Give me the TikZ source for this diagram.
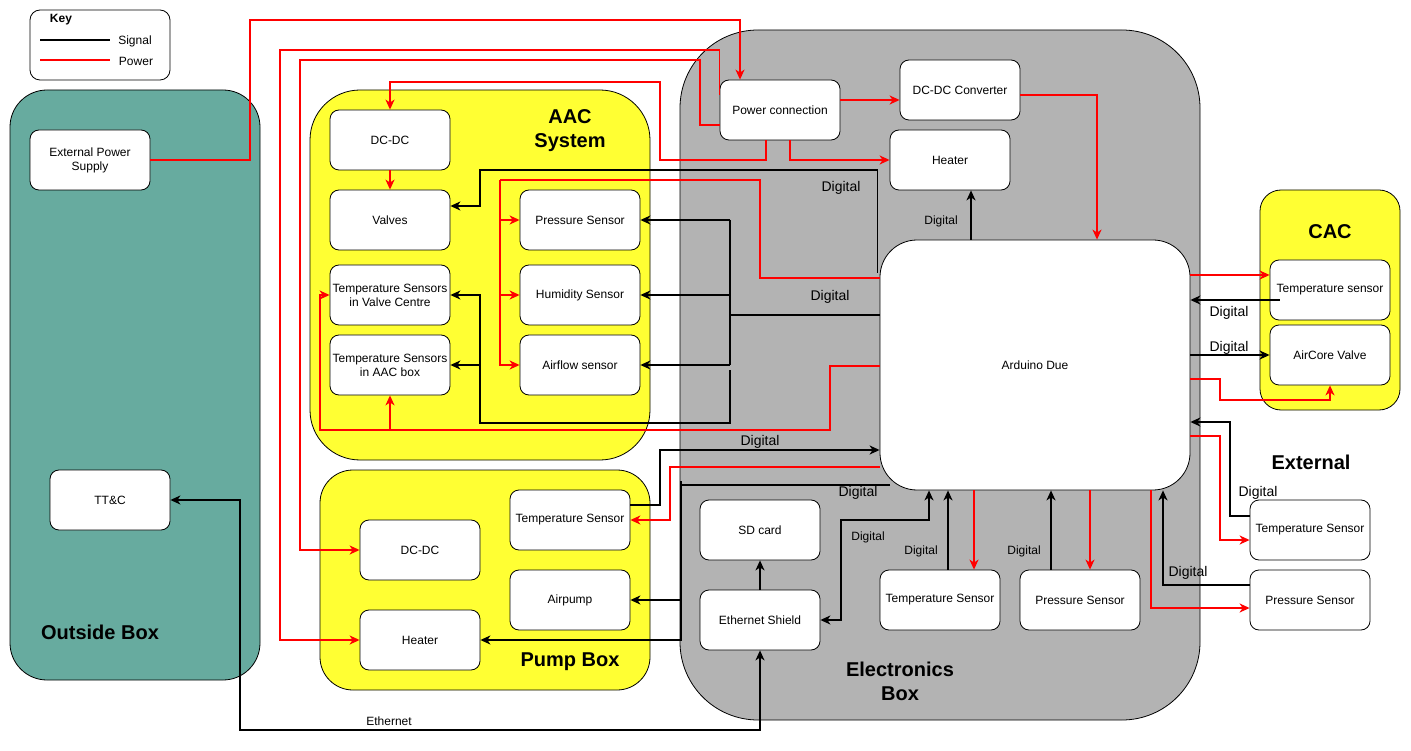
\documentclass[tikz,border=0pt]{standalone}
\usepackage{fontspec}
\setmainfont{Liberation Sans}
\usetikzlibrary{arrows.meta}
\definecolor{tealbox}{HTML}{67AB9F}
\definecolor{yelbox}{HTML}{FFFF33}
\definecolor{grybox}{HTML}{B3B3B3}
\tikzset{
  myarrow/.tip={Stealth[length=10pt,width=9pt,inset=3pt]},
  arr/.style={-myarrow},
  bidir/.style={myarrow-myarrow},
  box/.style={draw=black, fill=white, rounded corners=9pt, minimum width=120pt, minimum height=60pt, align=center, font=\fontsize{12}{14}\selectfont, inner sep=1pt, line width=0.8pt},
  cont/.style={draw=black, line width=0.8pt, inner sep=0pt},
  pw/.style={draw=red, line width=1.5pt},
  sg/.style={draw=black, line width=1.5pt},
  ttl/.style={font=\fontsize{20}{24}\selectfont\bfseries, align=center},
  lblL/.style={font=\fontsize{14}{16}\selectfont, inner sep=0pt},
  lblS/.style={font=\fontsize{12}{14}\selectfont, inner sep=0pt},
}
\begin{document}
\begin{tikzpicture}[x=1pt,y=-1pt]
\useasboundingbox (0,0) rectangle (1411,751);
% containers
\node[cont, fill=white, minimum width=140pt, minimum height=70pt, rounded corners=10pt] (keybox) at (100,45) {};
\node[cont, fill=tealbox, minimum width=250pt, minimum height=590pt, rounded corners=37pt] (outside) at (135,385) {};
\node[cont, fill=yelbox, minimum width=340pt, minimum height=370pt, rounded corners=50pt] (aac) at (480,275) {};
\node[cont, fill=yelbox, minimum width=330pt, minimum height=220pt, rounded corners=33pt] (pump) at (485,580) {};
\node[cont, fill=grybox, minimum width=520pt, minimum height=690pt, rounded corners=78pt] (ebox) at (940,375) {};
\node[cont, fill=yelbox, minimum width=140pt, minimum height=220pt, rounded corners=21pt] (cac) at (1330,300) {};
% titles
\node[ttl] (ttlout) at (100,632) {Outside Box};
\node[ttl] (ttlaac) at (570,131) {AAC\\System};
\node[ttl] (ttlpump) at (570,662) {Pump Box};
\node[ttl] (ttlebox) at (900,681) {Electronics\\Box};
\node[ttl] (ttlcac) at (1330,232) {CAC};
\node[ttl] (ttlext) at (1311,462) {External};
% key
\node[font=\fontsize{12}{14}\selectfont\bfseries] (keyt) at (61,20) {Key};
\coordinate (ks1) at (40,40); \coordinate (ks2) at (110,40);
\coordinate (kp1) at (40,60); \coordinate (kp2) at (110,60);
\draw[sg] (ks1) -- (ks2);
\draw[pw] (kp1) -- (kp2);
\node[lblS] (keysig) at (135,41) {Signal};
\node[lblS] (keypow) at (136,61) {Power};
% nodes
\node[box] (extpow) at (90,160) {External Power\\Supply};
\node[box] (ttc) at (110,500) {TT\&C};
\node[box] (aacdcdc) at (390,140) {DC-DC};
\node[box] (valves) at (390,220) {Valves};
\node[box] (tsvalve) at (390,295) {Temperature Sensors\\in Valve Centre};
\node[box] (tsaac) at (390,365) {Temperature Sensors\\in AAC box};
\node[box] (aacpress) at (580,220) {Pressure Sensor};
\node[box] (aachum) at (580,295) {Humidity Sensor};
\node[box] (aacair) at (580,365) {Airflow sensor};
\node[box] (ptemp) at (570,520) {Temperature Sensor};
\node[box] (pdcdc) at (420,550) {DC-DC};
\node[box] (pairpump) at (570,600) {Airpump};
\node[box] (pheater) at (420,640) {Heater};
\node[box] (pconn) at (780,110) {Power connection};
\node[box] (dcconv) at (960,90) {DC-DC Converter};
\node[box] (eheater) at (950,160) {Heater};
\node[box, minimum width=310pt, minimum height=250pt, rounded corners=37pt] (arduino) at (1035,365) {Arduino Due};
\node[box] (sdcard) at (760,530) {SD card};
\node[box] (ethshield) at (760,620) {Ethernet Shield};
\node[box] (etemp) at (940,600) {Temperature Sensor};
\node[box] (epress) at (1080,600) {Pressure Sensor};
\node[box] (cactemp) at (1330,290) {Temperature sensor};
\node[box] (aircore) at (1330,355) {AirCore Valve};
\node[box] (xtemp) at (1310,530) {Temperature Sensor};
\node[box] (xpress) at (1310,600) {Pressure Sensor};
% power connectors
\draw[pw,arr] (extpow.east) -| (250,20) -| ([xshift=-40pt]pconn.north);
\draw[pw,arr] ([yshift=15pt]pconn.west) |- (280,50) |- (pheater.west);
\draw[pw,arr] ([yshift=-15pt]pconn.west) -- (700,125) |- (300,60) |- (pdcdc.west);
\draw[pw,arr] ([xshift=-14pt]pconn.south) |- (660,160) |- (390,82) -- (aacdcdc.north);
\draw[pw,arr] ([xshift=10pt]pconn.south) |- (eheater.west);
\draw[pw,arr] ([yshift=10pt]pconn.east) -- ([yshift=-10pt]dcconv.west);
\draw[pw,arr] ([yshift=-5pt]dcconv.east) -| ([xshift=62pt]arduino.north);
\draw[pw,arr] (aacdcdc.south) -- (valves.north);
\coordinate (jP) at (500,180);
\draw[pw] ([yshift=87pt]arduino.west) -| (760,180) -- (jP);
\draw[pw,arr] (jP) |- (aacair.west);
\draw[pw,arr] (jP |- aacpress.west) -- (aacpress.west);
\draw[pw,arr] (jP |- aachum.west) -- (aachum.west);
\coordinate (jQ) at (390,430);
\draw[pw,arr] ([yshift=-1pt]arduino.west) -| (830,430) -| (320,295) -- (tsvalve.west);
\draw[pw,arr] (jQ) -- (tsaac.south);
\draw[pw,arr] ([yshift=-102pt]arduino.west) -| (670,520) -- (ptemp.east);
\draw[pw,arr] ([xshift=-61pt]arduino.south) -- ([xshift=34pt]etemp.north);
\draw[pw,arr] ([xshift=55pt]arduino.south) -- ([xshift=10pt]epress.north);
\draw[pw,arr] ([xshift=116pt]arduino.south) |- ([yshift=-8pt]xpress.west);
\draw[pw,arr] ([yshift=-71pt]arduino.east) -- (1220,436) |- ([yshift=-10pt]xtemp.west);
\draw[pw,arr] ([yshift=90pt]arduino.east) -- ([yshift=15pt]cactemp.west);
\draw[pw,arr] ([yshift=-14pt]arduino.east) -- (1220,379) |- (1330,400) -- (aircore.south);
% signal connectors
\draw[sg,arr] ([xshift=-64pt]arduino.north) -- ([xshift=21pt]eheater.south);
\draw[sg,arr] ([xshift=-2pt,yshift=92pt]arduino.west) |- (480,170) |- ([yshift=14pt]valves.east);
\coordinate (busS) at (730,315);
\draw[sg] ([yshift=50pt]arduino.west) -- (busS);
\draw[sg] (busS |- aacpress.east) -- (busS |- aacair.east);
\draw[sg,arr] (busS |- aacpress.east) -- (aacpress.east);
\draw[sg,arr] (busS |- aachum.east) -- (aachum.east);
\draw[sg,arr] (busS |- aacair.east) -- (aacair.east);
\coordinate (s4s) at (730,370);
\coordinate (jT) at (480,365);
\draw[sg,arr] (s4s) |- (480,423) |- (tsvalve.east);
\draw[sg,arr] (jT) -- (tsaac.east);
\draw[sg,arr] ([yshift=15pt]ptemp.east) -| (660,450) -- ([yshift=-85pt]arduino.west);
\coordinate (s6s) at (890,485);
\coordinate (jU) at (681,485);
\draw[sg] (s6s) -- (jU);
\draw[sg,arr] ([yshift=4pt]jU) |- (pheater.east);
\draw[sg,arr] (jU |- pairpump.east) -- (pairpump.east);
\draw[sg,arr] (ethshield.north) -- (sdcard.south);
\draw[sg,bidir] (ttc.east) -| (240,730) -| (ethshield.south);
\draw[sg,bidir] (ethshield.east) -| (841,520) -| ([xshift=-106pt]arduino.south);
\draw[sg,arr] ([xshift=8pt]etemp.north) -- ([xshift=-87pt]arduino.south);
\draw[sg,arr] ([xshift=-29pt]epress.north) -- ([xshift=16pt]arduino.south);
\draw[sg,arr] ([yshift=15pt]xpress.west) -| ([xshift=128pt]arduino.south);
\draw[sg,arr] ([yshift=14pt]xtemp.west) -| (1230,422) -- ([yshift=-57pt]arduino.east);
\draw[sg,arr] ([xshift=10pt,yshift=-10pt]cactemp.west) -- ([yshift=65pt]arduino.east);
\draw[sg,arr] ([yshift=10pt]arduino.east) -- (aircore.west);
% labels
\node[lblS] (ethlbl) at (389,721) {Ethernet};
\node[lblL] (dg1) at (841,188) {Digital};
\node[lblL] (dg2) at (830,297) {Digital};
\node[lblL] (dg3) at (760,442) {Digital};
\node[lblL] (dg4) at (858,493) {Digital};
\node[lblL] (dg5) at (1258,493) {Digital};
\node[lblL] (dg6) at (1188,573) {Digital};
\node[lblL] (dg7) at (1229,313) {Digital};
\node[lblL] (dg8) at (1229,348) {Digital};
\node[lblS] (dg9) at (941,221) {Digital};
\node[lblS] (dg10) at (868,537) {Digital};
\node[lblS] (dg11) at (921,551) {Digital};
\node[lblS] (dg12) at (1024,551) {Digital};
\end{tikzpicture}
\end{document}
